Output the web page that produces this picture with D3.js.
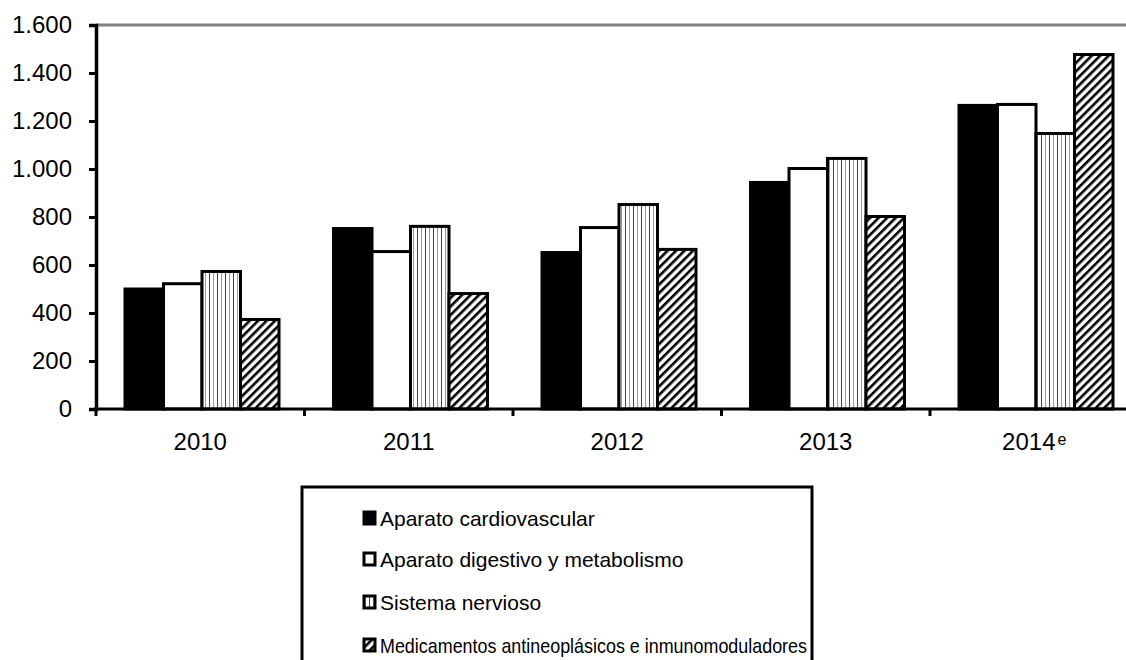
<!DOCTYPE html>
<html><head><meta charset="utf-8">
<script src="https://cdn.jsdelivr.net/npm/d3@7"></script>
<style>body{margin:0;background:#fff}svg{display:block}</style>
</head><body>
<svg id="c" width="1126" height="660"></svg>
<script>
const categories = ["2010","2011","2012","2013","2014"];
const categorySup = ["","","","","e"];
const seriesNames = ["Aparato cardiovascular","Aparato digestivo y metabolismo","Sistema nervioso","Medicamentos antineoplásicos e inmunomoduladores"];
const cardiovascular = [500, 752, 652, 944, 1265];
const digestivo = [522, 656, 756, 1002, 1269];
const nervioso = [573, 761, 852, 1044, 1148];
const antineoplasicos = [373, 481, 665, 802, 1477];
const yTicks = [0,200,400,600,800,1000,1200,1400,1600];
const seriesValues = [cardiovascular, digestivo, nervioso, antineoplasicos];

const FONT = "Liberation Sans, Arial, sans-serif";
const svg = d3.select("#c");
const defs = svg.append("defs");
const vp = defs.append("pattern").attr("id","vstripe").attr("patternUnits","userSpaceOnUse")
  .attr("width",8).attr("height",8);
vp.append("rect").attr("width",8).attr("height",8).attr("fill","#fff");
vp.append("rect").attr("x",1).attr("width",1).attr("height",8).attr("fill","#444");
vp.append("rect").attr("x",5).attr("width",1).attr("height",8).attr("fill","#999");
const hp = defs.append("pattern").attr("id","hatch").attr("patternUnits","userSpaceOnUse")
  .attr("width",6).attr("height",6).attr("patternTransform","rotate(45)");
hp.append("rect").attr("width",6).attr("height",6).attr("fill","#fff");
hp.append("rect").attr("x",0).attr("width",2.6).attr("height",6).attr("fill","#000");

const fills = ["#000","#fff","url(#vstripe)","url(#hatch)"];

const x0 = 96, y0 = 409, yTop = 25;
const x = d3.scaleBand().domain(categories).range([x0, x0 + 5*208.5]).paddingInner(0).paddingOuter(0);
const xs = d3.scaleBand().domain(d3.range(4)).range([29, 29+154]).padding(0);
const y = d3.scaleLinear().domain([0,1600]).range([y0, yTop]);

// top gray line
svg.append("line").attr("x1",x0).attr("x2",1126).attr("y1",y(1600)).attr("y2",y(1600))
  .attr("stroke","#808080").attr("stroke-width",3);

// bars
const g = svg.append("g");
categories.forEach((c,i)=>{
  seriesValues.forEach((vals,s)=>{
    g.append("rect")
      .attr("x", x(c)+xs(s)).attr("y", y(vals[i]))
      .attr("width", xs.bandwidth()).attr("height", y0 - y(vals[i]))
      .attr("fill", fills[s]).attr("stroke","#000").attr("stroke-width",3);
  });
});

// y axis
const yAxis = d3.axisLeft(y).tickValues(yTicks).tickSize(7).tickPadding(17)
  .tickFormat(d => d3.format(",")(d).replace(/,/g,"."));
const ya = svg.append("g").attr("transform",`translate(${x0},0)`).call(yAxis);
ya.attr("font-family", FONT).attr("font-size", 24);
ya.select(".domain").attr("stroke","#000").attr("stroke-width",3.5);
ya.selectAll(".tick line").attr("stroke","#000").attr("stroke-width",3);
ya.selectAll("text").attr("fill","#000");

// x axis
const xa = svg.append("g").attr("transform",`translate(0,${y0})`);
xa.append("line").attr("x1",x0-2).attr("x2",1126).attr("stroke","#000").attr("stroke-width",3);
const bounds = categories.map(c=>x(c)).concat([x(categories[4])+x.bandwidth()]);
bounds.forEach(b=>{
  xa.append("line").attr("x1",b).attr("x2",b).attr("y1",0).attr("y2",7).attr("stroke","#000").attr("stroke-width",3);
});
categories.forEach((c,i)=>{
  const t = xa.append("text").attr("x", x(c)+x.bandwidth()/2).attr("y",41)
    .attr("text-anchor","middle").attr("font-family",FONT)
    .attr("font-size",24).attr("fill","#000");
  t.append("tspan").text(c);
  if (categorySup[i]) t.append("tspan").attr("font-size",16).attr("dy",-5).attr("dx",2).text(categorySup[i]);
});

// legend
const lg = svg.append("g");
lg.append("path").attr("d","M302,662 L302,487 L812,487 L812,662").attr("fill","none").attr("stroke","#000").attr("stroke-width",3);
const legY = [518, 559, 602, 645];
seriesNames.forEach((n,i)=>{
  lg.append("rect").attr("x",364).attr("y",legY[i]-6).attr("width",11).attr("height",12)
    .attr("fill",fills[i]).attr("stroke","#000").attr("stroke-width",3);
  const t = lg.append("text").attr("x",380).attr("y",legY[i]+7.5).attr("font-family",FONT)
    .attr("font-size",21).attr("fill","#000").text(n);
  if (i===3) t.attr("textLength",427).attr("lengthAdjust","spacingAndGlyphs");
});
</script>
</body></html>
